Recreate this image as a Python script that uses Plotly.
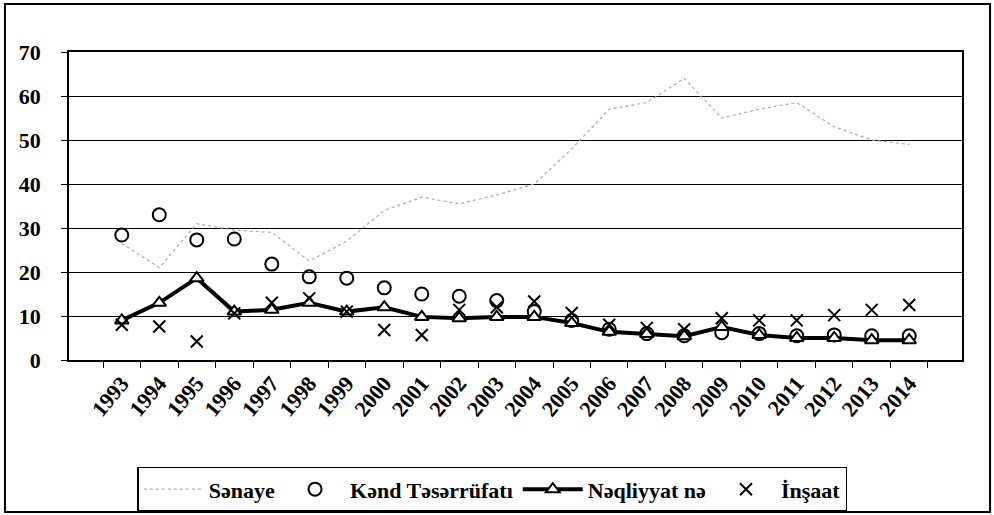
import plotly.graph_objects as go

# values
years = [str(y) for y in range(1993, 2015)]
senaye = [26.5, 21, 31, 29.5, 29, 22.5, 27, 34, 37, 35.5, 37.5, 40,
          48, 57, 58.5, 64, 55, 57, 58.5, 53, 50, 49]
kend = [28.4, 33, 27.3, 27.5, 21.8, 18.9, 18.6, 16.4, 15, 14.5, 13.5, 11,
        9, 7, 6, 5.5, 6.2, 6, 5.5, 5.7, 5.5, 5.5]
neqliyyat = [9, 13, 18.6, 11, 11.4, 13, 11, 12, 9.8, 9.5, 9.8, 9.8,
             8.4, 6.4, 5.9, 5.4, 7.5, 5.7, 5, 5, 4.5, 4.5]
insaat = [8, 7.6, 4.2, 10.6, 13, 14, 11, 6.8, 5.7, 11.4, 12, 13.3,
          10.7, 8, 7.3, 7, 9.5, 9, 9, 10.2, 11.4, 12.5]

FONT = "Liberation Serif"

fig = go.Figure()

fig.add_trace(go.Scatter(
    x=years, y=senaye, name="Sənaye", mode="lines",
    line=dict(color="#aaaaaa", width=1.2, dash="dot"),
))
fig.add_trace(go.Scatter(
    x=years, y=kend, name="Kənd Təsərrüfatı", mode="markers",
    marker=dict(symbol="circle-open", size=13, color="black",
                line=dict(width=2, color="black")),
))
fig.add_trace(go.Scatter(
    x=years, y=neqliyyat, name="Nəqliyyat nə", mode="lines+markers",
    line=dict(color="black", width=4),
    marker=dict(symbol="triangle-up", size=12, color="white",
                line=dict(width=2, color="black")),
))
fig.add_trace(go.Scatter(
    x=years, y=insaat, name="İnşaat", mode="markers",
    marker=dict(symbol="x-thin-open", size=12, color="black",
                line=dict(width=2, color="black")),
))

# outer frame around the whole chart
fig.add_shape(type="rect", xref="paper", yref="paper",
              x0=-0.0717, x1=1.0314, y0=-0.4935, y1=1.1558,
              line=dict(color="black", width=2))

fig.update_layout(
    width=994, height=515,
    margin=dict(l=69, r=32, t=52, b=155, autoexpand=False),
    paper_bgcolor="white", plot_bgcolor="white",
    font=dict(family=FONT, color="black", size=16),
    showlegend=True,
    legend=dict(
        orientation="h", x=0.474, xanchor="center", y=-0.347, yanchor="top",
        bordercolor="black", borderwidth=1.5,
        font=dict(family=FONT, size=22, weight="bold"),
        itemwidth=60,
    ),
    xaxis=dict(
        type="category", tickangle=-50, tickson="boundaries",
        ticks="outside", ticklen=6, tickcolor="black",
        showline=True, linecolor="black", linewidth=1.5, mirror=True,
        showgrid=False, automargin=False,
        tickfont=dict(family=FONT, size=22, weight="bold"),
    ),
    yaxis=dict(
        range=[0, 70], dtick=10, ticks="outside", ticklen=6, tickcolor="black",
        ticklabelstandoff=16,
        showline=True, linecolor="black", linewidth=1.5, mirror=True,
        showgrid=True, gridcolor="black", gridwidth=1, automargin=False,
        tickfont=dict(family=FONT, size=22, weight="bold"),
        zeroline=False,
    ),
)

# the page keeps the browser's default body margin otherwise
fig.write_html("out.html", config={"displayModeBar": False},
               post_script="document.body.style.margin='0';")
